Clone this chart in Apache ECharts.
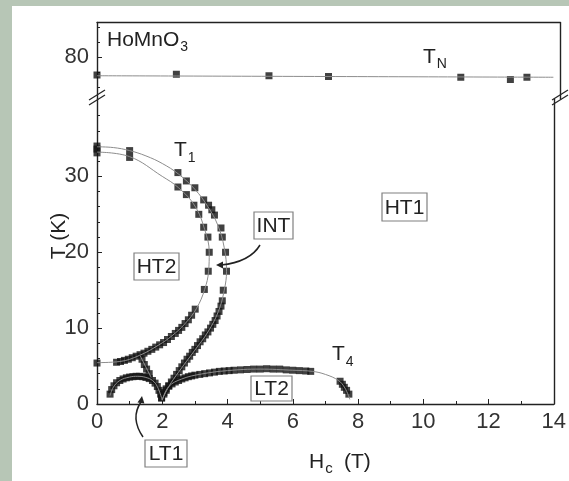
<!DOCTYPE html>
<html>
<head>
<meta charset="utf-8">
<script src="https://cdn.jsdelivr.net/npm/echarts@6/dist/echarts.min.js"></script>
<style>
  html, body { margin: 0; padding: 0; background: #b7c6b6; }
  #panel { position: absolute; left: 12px; top: 6px; width: 557px; height: 475px; background: #ffffff; }
  #chart { position: absolute; left: 0; top: 0; width: 569px; height: 481px; }
</style>
</head>
<body>
<div id="panel"></div>
<div id="chart"></div>
<script>
// ---- Phase boundaries of HoMnO3, field along c (H in tesla, T in kelvin) ----

// Neel temperature T_N
const tnPoints = [[0, 77.6], [2.4, 77.7], [5.2, 77.5], [7.0, 77.4], [11.0, 77.3], [12.5, 77.0], [13.0, 77.3]];
const tnFit = [[0, 77.5], [13.8, 77.3]];

// T1: outer boundary (HT1 / INT)
const outerPoints = [
  [0, 34.0], [0, 33.6], [1.0, 33.4], [2.48, 30.5], [2.74, 29.4], [3.0, 28.5], [3.27, 26.9],
  [3.42, 26.2], [3.52, 25.6], [3.6, 24.9], [3.8, 23.2], [3.84, 22.0], [3.94, 20.0], [3.97, 17.5],
  [3.87, 15.0], [3.84, 13.6], [3.8, 12.9], [3.74, 12.2], [3.68, 11.6], [3.62, 11.0], [3.55, 10.5],
  [3.48, 10.0], [3.4, 9.5], [3.32, 9.1], [3.24, 8.6], [3.16, 8.2], [3.08, 7.7], [3.0, 7.2],
  [2.92, 6.8], [2.84, 6.3], [2.76, 5.9], [2.68, 5.4], [2.6, 4.9], [2.52, 4.4], [2.44, 3.9],
  [2.36, 3.4], [2.28, 2.9], [2.2, 2.4], [2.12, 1.8], [2.05, 1.3], [1.98, 0.8]
];
const outerFit = [
  [0, 33.9], [0.5, 33.8], [1, 33.4], [1.5, 32.7], [2, 31.7], [2.5, 30.3], [3, 28.3], [3.4, 26.0],
  [3.7, 23.6], [3.9, 20.6], [3.97, 17.5], [3.9, 15.0], [3.72, 12.2], [3.4, 9.5], [3.0, 7.1],
  [2.5, 4.2], [2.2, 2.3], [2.0, 0.6]
];

// T1: inner boundary (INT / HT2)
const innerPoints = [
  [0, 33.1], [1.0, 32.5], [2.48, 28.6], [2.74, 27.6], [2.97, 26.2], [3.12, 25.0], [3.27, 23.3],
  [3.4, 22.0], [3.44, 20.0], [3.41, 17.5], [3.29, 15.1], [3.01, 12.5], [2.9, 11.7], [2.8, 11.1],
  [2.7, 10.6], [2.6, 10.1], [2.5, 9.7], [2.4, 9.3], [2.28, 8.9], [2.16, 8.5], [2.04, 8.1],
  [1.92, 7.8], [1.8, 7.5], [1.68, 7.2], [1.56, 6.95], [1.44, 6.7], [1.32, 6.5], [1.2, 6.3],
  [1.08, 6.1], [0.96, 5.9], [0.84, 5.75], [0.72, 5.6], [0.6, 5.5], [0, 5.4]
];
const innerFit = [
  [0, 33.2], [1, 32.6], [2, 30.0], [2.5, 28.5], [3, 26.1], [3.3, 23.0], [3.44, 20.0], [3.42, 17.5],
  [3.3, 15.1], [3.05, 12.6], [2.7, 10.6], [2.3, 9.0], [1.9, 7.8], [1.3, 6.4], [0.7, 5.6], [0, 5.45]
];

// short boundary between HT2 and LT1
const linkPoints = [[1.38, 5.9], [1.45, 5.2], [1.52, 4.6], [1.6, 4.0]];
const linkFit = [[1.33, 6.3], [1.66, 3.5]];

// LT1 dome
const lt1Points = [
  [0.4, 1.3], [0.45, 1.9], [0.52, 2.4], [0.6, 2.8], [0.7, 3.1], [0.8, 3.3], [0.9, 3.45], [1.0, 3.55],
  [1.1, 3.6], [1.2, 3.65], [1.3, 3.65], [1.4, 3.6], [1.5, 3.5], [1.6, 3.35], [1.7, 3.1], [1.78, 2.75],
  [1.85, 2.3], [1.9, 1.8], [1.95, 1.3], [1.98, 0.8]
];
const lt1Fit = [[0.4, 1.1], [0.5, 2.2], [0.7, 3.1], [1.0, 3.55], [1.25, 3.65], [1.5, 3.5], [1.7, 3.1], [1.85, 2.3], [2.0, 0.5]];

// LT2 boundary and T4
const lt2Points = [
  [2.05, 1.5], [2.12, 2.0], [2.2, 2.35], [2.3, 2.65], [2.4, 2.9], [2.5, 3.1], [2.6, 3.3], [2.7, 3.45],
  [2.8, 3.6], [2.9, 3.7], [3.0, 3.8], [3.15, 3.9], [3.3, 4.0], [3.45, 4.1], [3.6, 4.2], [3.75, 4.3],
  [3.9, 4.35], [4.05, 4.4], [4.2, 4.45], [4.4, 4.5], [4.6, 4.55], [4.8, 4.6], [5.0, 4.6], [5.2, 4.65],
  [5.4, 4.6], [5.6, 4.6], [5.8, 4.5], [6.0, 4.45], [6.2, 4.4], [6.4, 4.35], [6.55, 4.3],
  [7.45, 3.0], [7.52, 2.6], [7.58, 2.2], [7.65, 1.8], [7.72, 1.3]
];
const lt2Fit = [
  [2.0, 0.5], [2.2, 2.3], [2.6, 3.3], [3.2, 3.95], [4, 4.4], [5, 4.6], [6, 4.45], [6.6, 4.3],
  [7.0, 3.9], [7.4, 3.1], [7.6, 2.1], [7.75, 0.6]
];

// axis tick positions
const lowerLabels = [0, 10, 20, 30];
const lowerMinor = [2, 4, 6, 8, 12, 14, 16, 18, 22, 24, 26, 28, 32, 34, 36, 38];
const upperLabels = [80];
const upperMinor = [76, 78, 82, 84];

const FONT = "'Liberation Sans', Arial, sans-serif";
const INK = '#222';
const FIT = '#8c8c8c';
const TICK_FONT = 22;
const TEXT_FONT = 21;

const chart = echarts.init(document.getElementById('chart'), null, { renderer: 'canvas' });

const L = 97, R = 9, TOP = 22.5, BRK = 99, BOT = 77;

function frameY(grid, pos) {
  return {
    gridIndex: grid, type: 'value', position: pos, min: grid === 0 ? 74.4 : 0, max: grid === 0 ? 84.6 : 40.2,
    axisLine: { show: true, lineStyle: { color: INK, width: 1.4 } },
    axisTick: { show: false }, axisLabel: { show: false }, splitLine: { show: false }
  };
}

const labelStyle = { show: true, margin: 8, fontSize: TICK_FONT, fontFamily: FONT, color: '#333' };

const yAxes = [
  // upper segment (around T_N)
  { gridIndex: 0, type: 'value', position: 'left', min: 74.4, max: 84.6,
    axisLine: { show: true, lineStyle: { color: INK, width: 1.4 } },
    axisTick: { show: true, inside: true, length: 5, customValues: upperLabels, lineStyle: { color: INK } },
    axisLabel: Object.assign({ customValues: upperLabels }, labelStyle),
    splitLine: { show: false } },
  { gridIndex: 0, type: 'value', position: 'left', min: 74.4, max: 84.6,
    axisLine: { show: false },
    axisTick: { show: true, inside: true, length: 3, customValues: upperMinor, lineStyle: { color: INK } },
    axisLabel: { show: false }, splitLine: { show: false } },
  frameY(0, 'right'),
  // lower segment
  { gridIndex: 1, type: 'value', position: 'left', min: 0, max: 40.2,
    axisLine: { show: true, lineStyle: { color: INK, width: 1.4 } },
    axisTick: { show: true, inside: true, length: 5, customValues: lowerLabels, lineStyle: { color: INK } },
    axisLabel: Object.assign({ customValues: lowerLabels }, labelStyle),
    splitLine: { show: false } },
  { gridIndex: 1, type: 'value', position: 'left', min: 0, max: 40.2,
    axisLine: { show: false },
    axisTick: { show: true, inside: true, length: 3, customValues: lowerMinor, lineStyle: { color: INK } },
    axisLabel: { show: false }, splitLine: { show: false } },
  frameY(1, 'right')
];

const xAxes = [
  { gridIndex: 0, type: 'value', position: 'top', min: 0, max: 14,
    axisLine: { show: true, lineStyle: { color: INK, width: 1.4 } },
    axisTick: { show: false }, axisLabel: { show: false }, splitLine: { show: false } },
  { gridIndex: 1, type: 'value', position: 'bottom', min: 0, max: 14, interval: 2,
    axisLine: { show: true, lineStyle: { color: INK, width: 1.4 } },
    axisTick: { show: true, inside: true, length: 5, lineStyle: { color: INK } },
    minorTick: { show: true, splitNumber: 2, length: 3, lineStyle: { color: INK } },
    axisLabel: Object.assign({}, labelStyle, { margin: 7 }),
    splitLine: { show: false }, minorSplitLine: { show: false } }
];

function pts(data, grid) {
  return {
    type: 'scatter', xAxisIndex: grid, yAxisIndex: grid === 0 ? 0 : 3, data: data,
    symbol: 'rect', symbolSize: 7, itemStyle: { color: '#111' }, z: 3, silent: true
  };
}
function fit(data, grid) {
  return {
    type: 'line', xAxisIndex: grid, yAxisIndex: grid === 0 ? 0 : 3, data: data,
    smooth: 0.4, showSymbol: false, symbol: 'none', lineStyle: { color: FIT, width: 1 }, z: 4, silent: true
  };
}

const series = [
  pts(tnPoints, 0), fit(tnFit, 0),
  pts(outerPoints, 1), fit(outerFit, 1),
  pts(innerPoints, 1), fit(innerFit, 1),
  pts(linkPoints, 1), fit(linkFit, 1),
  pts(lt1Points, 1), fit(lt1Fit, 1),
  pts(lt2Points, 1), fit(lt2Fit, 1)
];

// text width helper for placing subscripts
const ctx = document.createElement('canvas').getContext('2d');
function textW(str, size) { ctx.font = size + 'px ' + FONT; return ctx.measureText(str).width; }

function subText(x, y, main, sub, size, subSize, dy) {
  const w = textW(main, size);
  return [
    { type: 'text', left: x, top: y, z: 20, style: { text: main, font: size + 'px ' + FONT, fill: INK } },
    { type: 'text', left: x + w + 1, top: y + dy, z: 20, style: { text: sub, font: subSize + 'px ' + FONT, fill: INK } }
  ];
}

function boxLabel(x, y, w, h, str) {
  return [
    { type: 'rect', z: 20, shape: { x: x, y: y, width: w, height: h },
      style: { fill: '#fff', stroke: '#808080', lineWidth: 1.2 } },
    { type: 'text', z: 21, x: x + w / 2, y: y + h / 2 + 1,
      style: { text: str, font: TEXT_FONT + 'px ' + FONT, fill: INK, align: 'center', verticalAlign: 'middle' } }
  ];
}

function breakMark(cx, cy) {
  return {
    type: 'group', z: 30, children: [
      { type: 'polygon', shape: { points: [[cx - 8, cy + 6], [cx + 8, cy - 4], [cx + 8, cy - 9], [cx - 8, cy + 1]] },
        style: { fill: '#fff' } },
      { type: 'line', shape: { x1: cx - 8, y1: cy + 6, x2: cx + 8, y2: cy - 4 }, style: { stroke: INK, lineWidth: 1.2 } },
      { type: 'line', shape: { x1: cx - 8, y1: cy + 1, x2: cx + 8, y2: cy - 9 }, style: { stroke: INK, lineWidth: 1.2 } }
    ]
  };
}

function arrowHead(tx, ty, angle) {
  const a = 7, b = 3.5;
  const c = Math.cos(angle), s = Math.sin(angle);
  const back = [tx - a * c, ty - a * s];
  return { type: 'polygon', z: 22, shape: { points: [[tx, ty], [back[0] - b * s, back[1] + b * c], [back[0] + b * s, back[1] - b * c]] },
    style: { fill: INK } };
}

const graphic = [].concat(
  subText(107, 30, 'HoMnO', '3', TEXT_FONT, 14, 10),
  subText(423, 47, 'T', 'N', TEXT_FONT, 14, 10),
  subText(174, 140, 'T', '1', TEXT_FONT, 14, 11),
  subText(332, 344, 'T', '4', TEXT_FONT, 14, 11),
  boxLabel(382, 193, 45, 28, 'HT1'),
  boxLabel(134, 253, 45, 27, 'HT2'),
  boxLabel(254, 212, 39, 27, 'INT'),
  boxLabel(251, 376, 41, 25, 'LT2'),
  boxLabel(145, 440, 42, 27, 'LT1'),
  [
    { type: 'bezierCurve', z: 22, shape: { x1: 260, y1: 245, cpx1: 250, cpy1: 262, x2: 221, y2: 265 },
      style: { stroke: INK, lineWidth: 1.5, fill: null } },
    arrowHead(216, 265, Math.PI),
    { type: 'bezierCurve', z: 22, shape: { x1: 143, y1: 437, cpx1: 130, cpy1: 418, x2: 141, y2: 402 },
      style: { stroke: INK, lineWidth: 1.5, fill: null } },
    arrowHead(142, 396, -Math.PI / 2 + 0.15),
    breakMark(L, BRK),
    breakMark(569 - R, BRK),
    { type: 'text', z: 20, x: 59, y: 236, rotation: Math.PI / 2,
      style: { text: 'T (K)', font: TEXT_FONT + 'px ' + FONT, fill: INK, align: 'center', verticalAlign: 'middle' } }
  ],
  subText(309, 452, 'H', 'c', TEXT_FONT, 15, 9),
  [{ type: 'text', z: 20, left: 344, top: 452, style: { text: '(T)', font: TEXT_FONT + 'px ' + FONT, fill: INK } }]
);

chart.setOption({
  animation: false,
  backgroundColor: 'transparent',
  grid: [
    { left: L, right: R, top: TOP, height: BRK - TOP },
    { left: L, right: R, top: BRK, bottom: BOT }
  ],
  xAxis: xAxes,
  yAxis: yAxes,
  series: series,
  graphic: graphic
});
</script>
</body>
</html>
